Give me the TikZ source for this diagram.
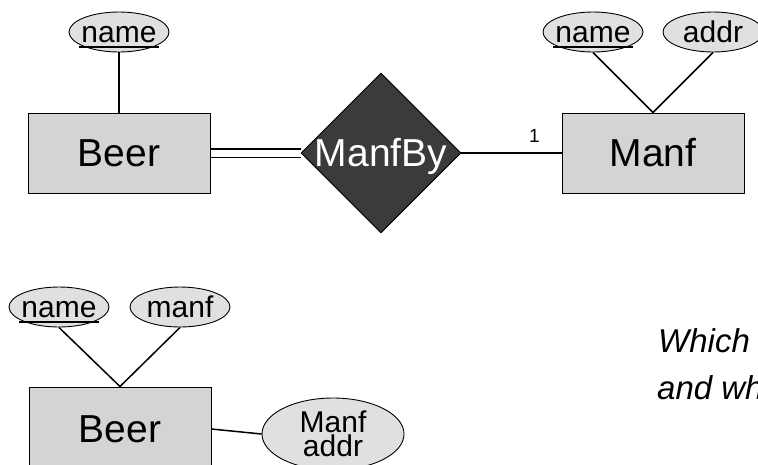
\documentclass[tikz,border=0pt]{standalone}
\usepackage{fontspec}
\setmainfont{Liberation Sans}
\usetikzlibrary{shapes.geometric,backgrounds}

\definecolor{entfill}{gray}{0.83}
\definecolor{attrfill}{gray}{0.88}
\definecolor{relfill}{gray}{0.23}

% attribute text is centred over a zero-width box so the ellipse keeps its set size
\newcommand\attrtext[1]{\makebox[0pt]{#1}}
% key attribute: underlined with a heavy rule
\newcommand\keyname[1]{\makebox[0pt]{\setbox0\hbox{#1}\rlap{\kern-2pt\raisebox{-5pt}{\rule{\dimexpr\wd0+4pt\relax}{2pt}}}\box0}}

\begin{document}
\begin{tikzpicture}[x=1pt,y=-1pt,
  entity/.style={draw, line width=1pt, fill=entfill, minimum width=182pt,
    minimum height=80pt, inner sep=0pt, font=\fontsize{39}{40}\selectfont},
  attr/.style={ellipse, draw, line width=0.9pt, fill=attrfill, minimum width=100pt,
    minimum height=40pt, inner sep=0pt, font=\fontsize{30}{30}\selectfont,
    text height=22pt, text depth=1pt},
  attrbig/.style={ellipse, draw, line width=0.9pt, fill=attrfill, minimum width=142pt,
    minimum height=72pt, inner sep=0pt, align=center, font=\fontsize{30}{24}\selectfont},
  rel/.style={diamond, draw, line width=0.9pt, fill=relfill, minimum width=160pt,
    minimum height=160pt, inner sep=0pt},
  question/.style={anchor=base west, inner sep=0pt, font=\fontsize{33}{40}\selectfont\itshape},
  link/.style={line width=1.5pt}]

\useasboundingbox (0,0) rectangle (758,464);
\clip (0,0) rectangle (758,464);

% --- upper diagram: Beer --ManfBy--> Manf
\node[entity] (beer1) at (119,153) {Beer};
\node[attr] (beer1name) at (119,32) {\keyname{name}};
\node[rel, label={[text=white, font=\fontsize{39}{40}\selectfont, text height=27pt,
  text depth=0pt, inner sep=0pt]center:ManfBy}] (manfby) at (381,153) {};
\node[entity] (manf) at (653,153) {Manf};
\node[attr] (manfname) at (593,32) {\keyname{name}};
\node[attr] (manfaddr) at (713,32) {\attrtext{addr}};

% --- lower diagram: Beer with manufacturer attributes folded in
\node[entity, minimum height=84pt] (beer2) at (120,429) {Beer};
\node[attr] (beer2name) at (59,307) {\keyname{name}};
\node[attr] (beer2manf) at (180,307) {\attrtext{manf}};
\node[attrbig] (beer2maddr) at (333,434) {Manf\\addr};

\node[question] (question1) at (658,352) {Which};
\node[question] (question2) at (657,399) {and wh};

\begin{scope}[on background layer]
  \draw[link] (beer1name) -- (beer1);
  \draw[link, double, double distance=7pt] (beer1.east) -- (manfby.west);
  \draw[link] (manfby.east) -- node[pos=0.73, above=10pt, inner sep=0pt,
    font=\fontsize{19}{20}\selectfont] (one) {1} (manf.west);
  \draw[link] (manfname.south) -- (manf.north);
  \draw[link] (manfaddr.south) -- (manf.north);
  \draw[link] (beer2name.south) -- (beer2.north);
  \draw[link] (beer2manf.south) -- (beer2.north);
  \draw[link] (beer2.east) -- (beer2maddr.west);
\end{scope}
\end{tikzpicture}
\end{document}
